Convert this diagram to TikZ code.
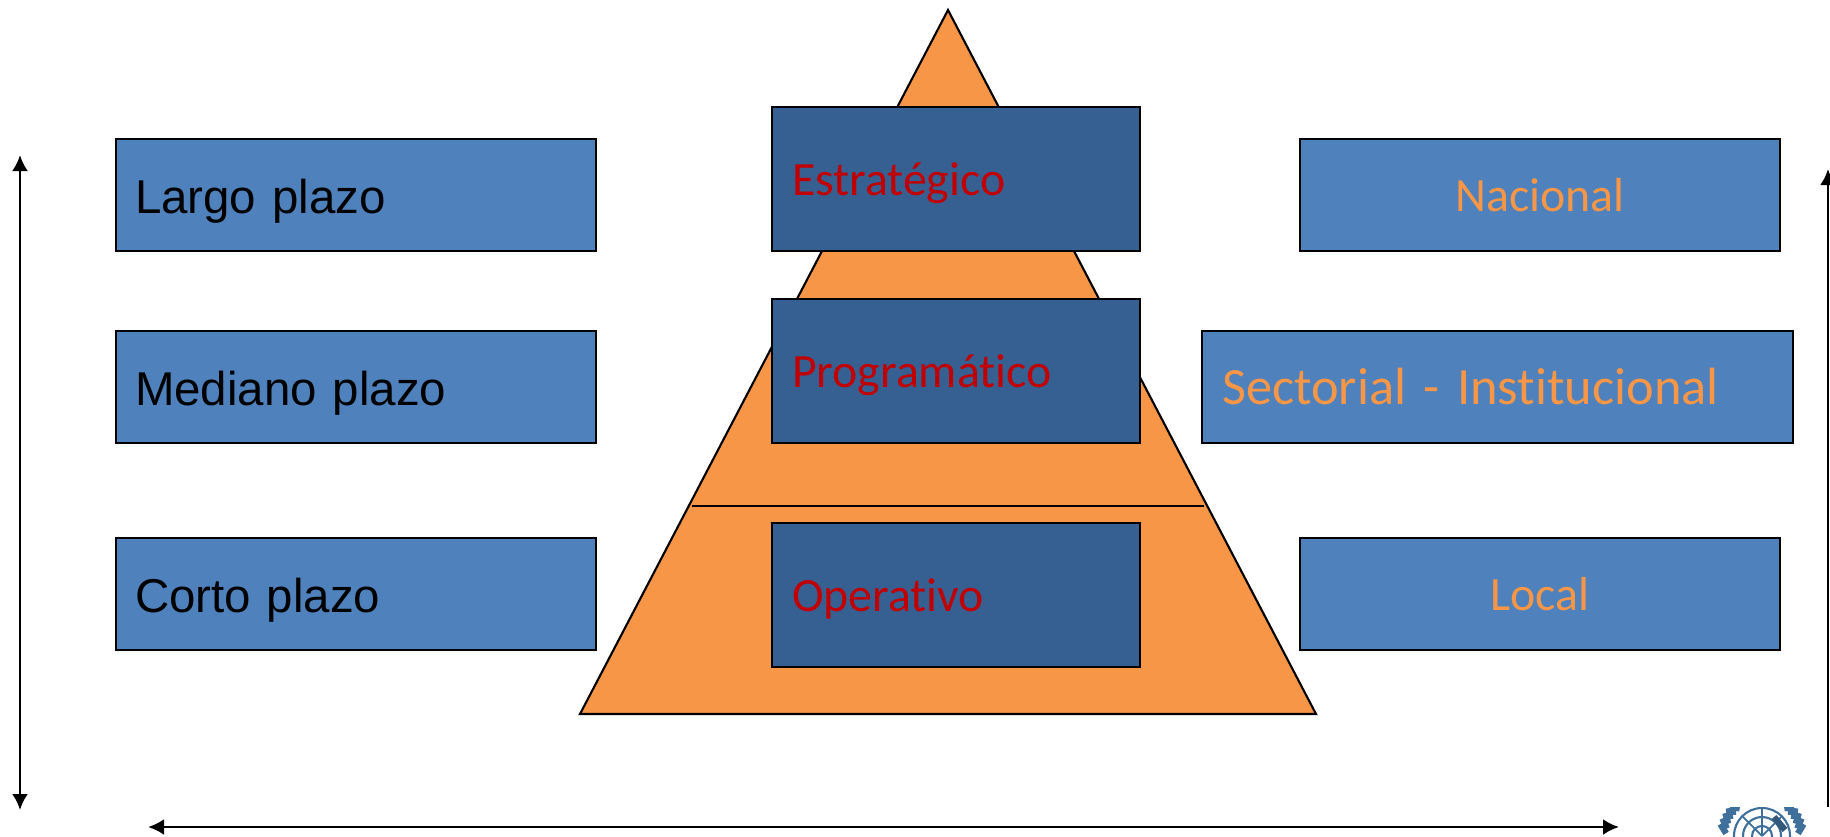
\documentclass[tikz,border=0pt]{standalone}
\usepackage{fontspec}
\usetikzlibrary{arrows.meta}
\setmainfont{Liberation Sans}
\newfontfamily\calfont[Ligatures=CommonOff]{Carlito}
\definecolor{plazoblue}{HTML}{4F81BD}
\definecolor{nivelblue}{HTML}{376092}
\definecolor{piramide}{HTML}{F79646}
\definecolor{nivelred}{HTML}{C00000}
\definecolor{unblue}{HTML}{3F6F9B}
\tikzset{
  plazobox/.style={draw=black,line width=0.6pt,fill=plazoblue,minimum width=4.8cm,minimum height=1.12cm,
    inner sep=0pt,align=left,text width=4.42cm,text height=0.36cm,text depth=0cm,font=\fontsize{13.5}{16}\selectfont},
  nivelbox/.style={draw=black,line width=0.6pt,fill=nivelblue,minimum width=3.68cm,minimum height=1.44cm,
    inner sep=0pt,align=left,text width=3.28cm,text height=0.32cm,text depth=0cm,text=nivelred,font=\calfont\fontsize{13.6}{16}\selectfont},
  lugarbox/.style={draw=black,line width=0.6pt,fill=plazoblue,minimum width=4.8cm,minimum height=1.12cm,
    inner sep=0pt,align=center,text=piramide,font=\calfont\fontsize{13.6}{16}\selectfont},
  eje/.style={line width=0.8pt,>={Latex[length=1.6mm,width=1.6mm]}}
}
\begin{document}
\begin{tikzpicture}
    \useasboundingbox (0,0) rectangle (18.3,8.36);
    % piramide
    \coordinate (cima) at (9.48,8.26);
    \coordinate (baseizq) at (5.80,1.22);
    \coordinate (baseder) at (13.16,1.22);
    \draw[line width=0.6pt,fill=piramide] (cima) -- (baseder) -- (baseizq) -- cycle;
    \coordinate (corteizq) at (6.92,3.30);
    \coordinate (corteder) at (12.04,3.30);
    \draw[line width=0.6pt] (corteizq) -- (corteder);
    % plazos
    \node[plazobox] (largo) at (3.56,6.41) {Largo plazo};
    \node[plazobox] (mediano) at (3.56,4.49) {Mediano plazo};
    \node[plazobox] (corto) at (3.56,2.42) {Corto plazo};
    % niveles
    \node[nivelbox] (estrategico) at (9.56,6.57) {Estratégico};
    \node[nivelbox] (programatico) at (9.56,4.65) {Programático};
    \node[nivelbox] (operativo) at (9.56,2.41) {Operativo};
    % territorio
    \node[lugarbox] (nacional) at (15.40,6.41) {Nacional};
    \node[lugarbox,minimum width=5.91cm,align=left,text width=5.51cm,font=\calfont\fontsize{14.9}{16}\selectfont] (sectorial) at (14.975,4.49) {Sectorial - Institucional};
    \node[lugarbox] (local) at (15.40,2.42) {Local};
    % ejes
    \coordinate (ejeizqa) at (0.20,6.81);
    \coordinate (ejeizqb) at (0.20,0.26);
    \draw[eje,<->] (ejeizqa) -- (ejeizqb);
    \coordinate (ejebajoa) at (1.48,0.09);
    \coordinate (ejebajob) at (16.19,0.09);
    \draw[eje,<->] (ejebajoa) -- (ejebajob);
    \coordinate (ejedera) at (18.28,6.67);
    \coordinate (ejederb) at (18.28,0.29);
    \draw[eje,->] (ejederb) -- (ejedera);
    % emblema
    \begin{scope}
      \clip (17.0,0) rectangle (18.2,0.29);
      \foreach \r in {0.10,0.19,0.28}
        \draw[unblue,line width=0.6pt] (17.62,0) circle (\r);
      \foreach \a in {45,90,135}
        \draw[unblue,line width=0.5pt] (17.62,0) -- ++(\a:0.28);
      \draw[unblue!80!black,line width=1.8pt] (17.74,0.19) -- (17.85,0.06);
      \foreach \a in {44,36,28,20,12,4}{
        \draw[unblue,line width=1.8pt] (17.62,0) ++(\a:0.36) -- ++(\a+55:0.11);
        \draw[unblue,line width=1.8pt] (17.62,0) ++(180-\a:0.36) -- ++(125-\a:0.11);
      }
    \end{scope}
\end{tikzpicture}
\end{document}
